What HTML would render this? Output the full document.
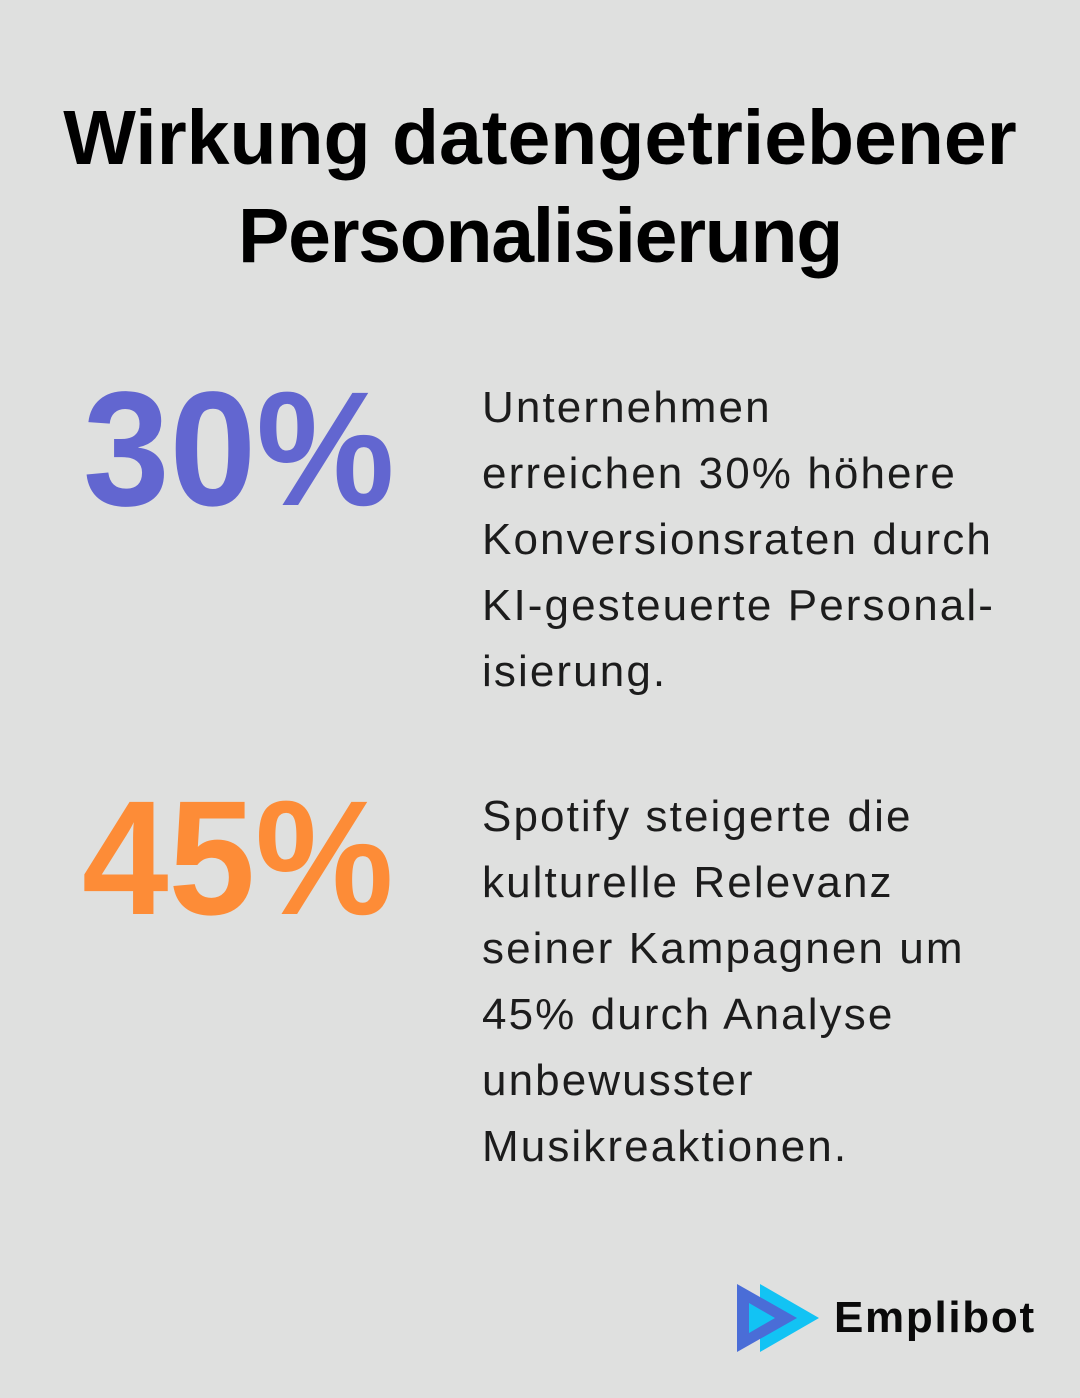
<!DOCTYPE html>
<html>
<head>
<meta charset="utf-8">
<style>
  html, body { margin: 0; padding: 0; }
  body {
    width: 1080px; height: 1398px; overflow: hidden;
    background: #dfe0df; position: relative;
    font-family: "Liberation Sans", "DejaVu Sans", sans-serif;
  }
  .t { position: absolute; white-space: nowrap; }
  .title {
    left: 0; width: 1080px; text-align: center;
    font-size: 77px; line-height: 77px; font-weight: bold; color: #000;
  }
  .num {
    font-size: 163px; line-height: 163px; font-weight: bold;
    transform: scaleX(0.955); transform-origin: 0 0;
  }
  .body {
    left: 482px; font-size: 44px; line-height: 66px; color: #1c1c1c;
    letter-spacing: 2.1px;
  }
  .brand {
    left: 834px; top: 1296px; font-size: 44px; line-height: 44px;
    font-weight: bold; color: #0a0a0a; letter-spacing: 1.7px;
  }
</style>
</head>
<body>
  <div class="t title" style="top:100px;">Wirkung datengetriebener</div>
  <div class="t title" style="top:198px; letter-spacing:-1.3px;">Personalisierung</div>

  <div class="t num" style="left:83px; top:367px; color:#6266d0;">30%</div>
  <div class="t body" style="top:375px;">Unternehmen<br>erreichen 30% höhere<br>Konversionsraten durch<br>KI-gesteuerte Personal-<br>isierung.</div>

  <div class="t num" style="left:82px; top:776px; color:#fd8c37;">45%</div>
  <div class="t body" style="top:784px;">Spotify steigerte die<br>kulturelle Relevanz<br>seiner Kampagnen um<br>45% durch Analyse<br>unbewusster<br>Musikreaktionen.</div>

  <svg class="t" style="left:0; top:0;" width="1080" height="1398" viewBox="0 0 1080 1398">
    <polygon points="760,1284 760,1352 819,1318" fill="#12c3f4"/>
    <polygon points="737,1284 737,1352 797,1318" fill="#4a6dd7"/>
    <polygon points="749,1303 749,1333 775,1318" fill="#12c3f4"/>
  </svg>
  <div class="t brand">Emplibot</div>
</body>
</html>
